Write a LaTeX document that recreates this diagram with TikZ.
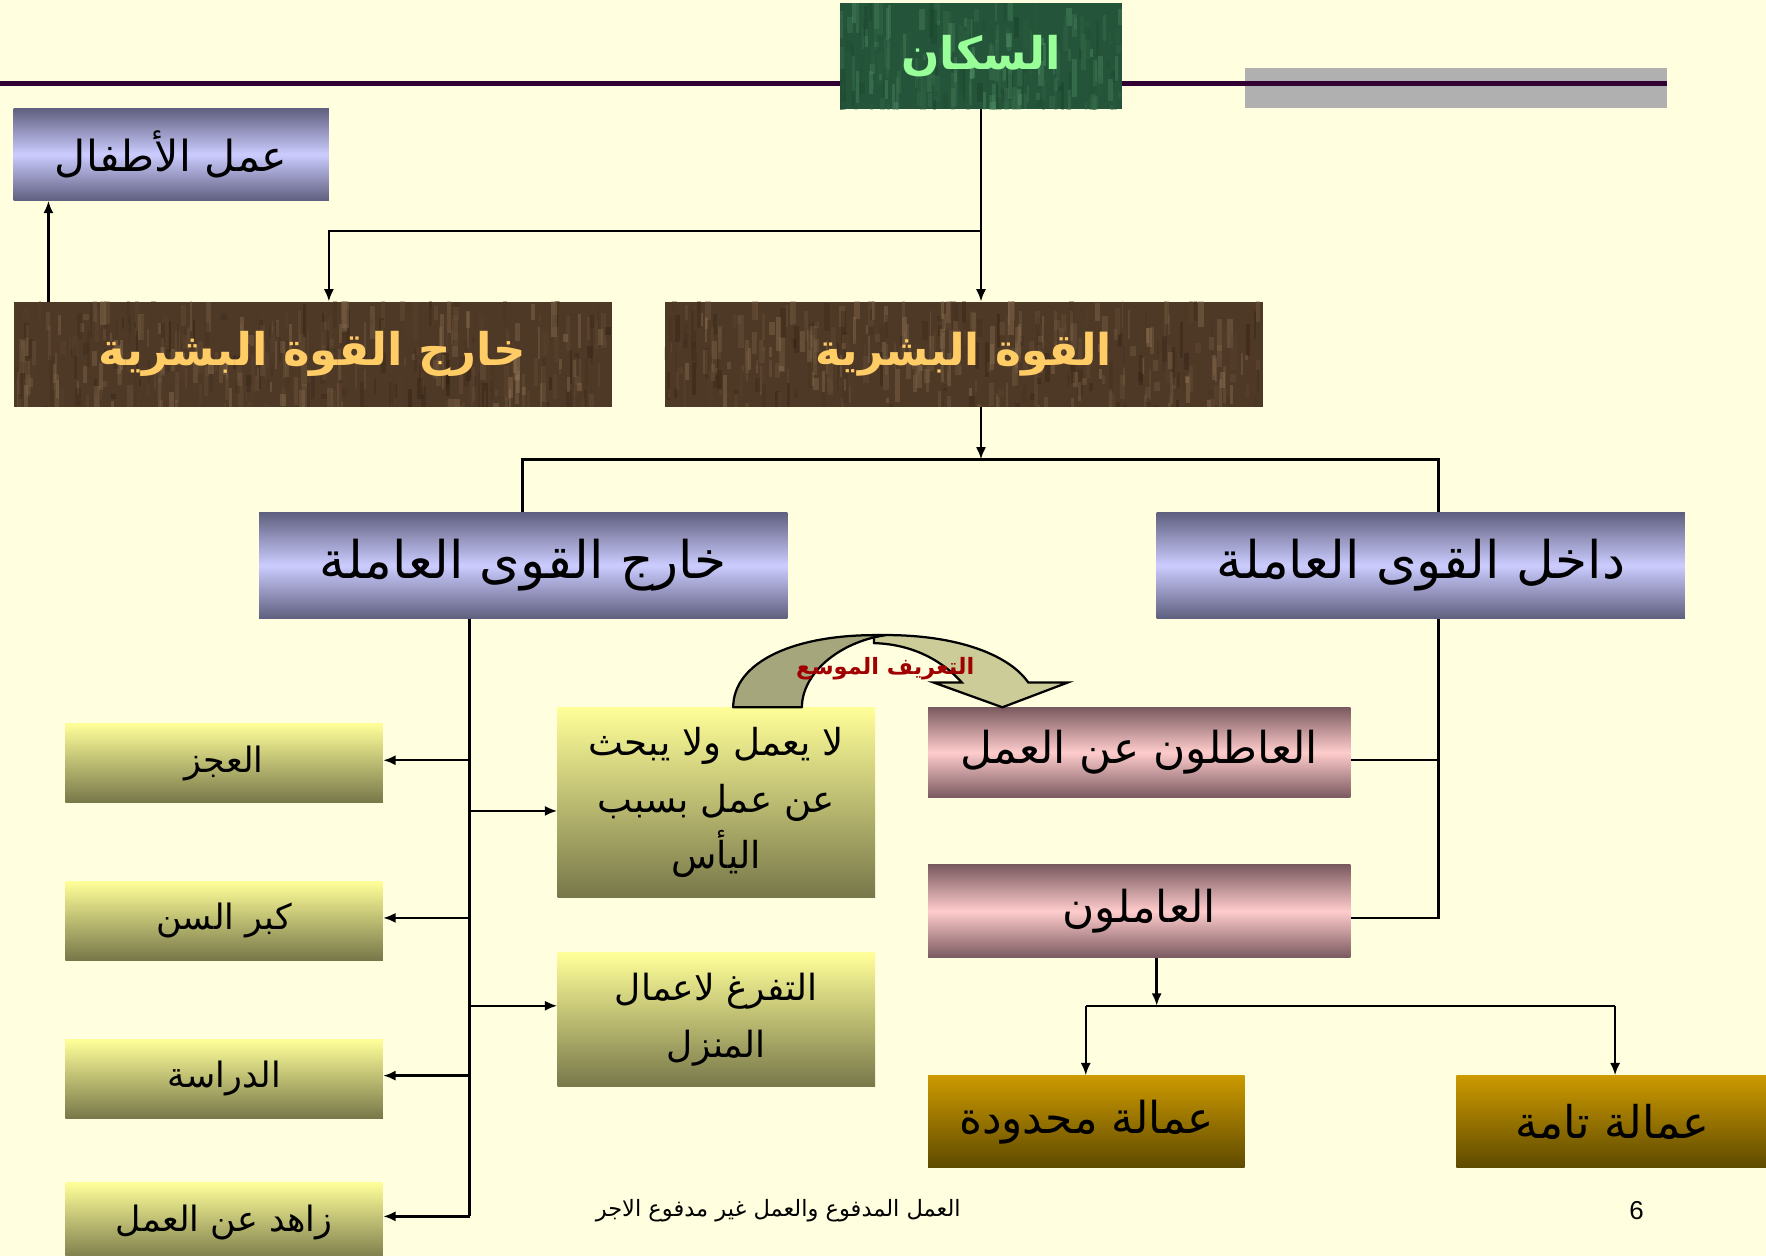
\documentclass[tikz,border=0pt]{standalone}
\usepackage{fontspec}
\setmainfont{Liberation Sans}
\newfontfamily\arb[Script=Arabic]{DejaVu Sans}
\TeXXeTstate=1
\usetikzlibrary{arrows.meta,calc}
\definecolor{bgc}{HTML}{FFFFE0}
\definecolor{purplec}{HTML}{330033}
\definecolor{greyc}{HTML}{B0B0B0}
\definecolor{bluedark}{HTML}{5F5F7F}
\definecolor{bluelight}{HTML}{CCCCFF}
\definecolor{pinkdark}{HTML}{7A5A60}
\definecolor{pinklight}{HTML}{FFCCCC}
\definecolor{yeltop}{HTML}{FFFF99}
\definecolor{yelbot}{HTML}{77774A}
\definecolor{goldtop}{HTML}{CC9900}
\definecolor{goldbot}{HTML}{5E4A00}
\definecolor{brownbase}{HTML}{4E3826}
\definecolor{brownA}{HTML}{2A1A0C}
\definecolor{brownB}{HTML}{9A7E5E}
\definecolor{greenbase}{HTML}{24553A}
\definecolor{greenA}{HTML}{123A22}
\definecolor{greenB}{HTML}{5E9E72}
\definecolor{goldtext}{HTML}{FFCC66}
\definecolor{greentext}{HTML}{99FF99}
\definecolor{arcdark}{HTML}{A6A67C}
\definecolor{arclight}{HTML}{CCCC99}
\definecolor{arctext}{HTML}{A00000}
\tikzset{
  base/.style={rectangle, inner sep=0pt, draw=none, align=center},
  bluebox/.style={base, top color=bluedark, bottom color=bluedark, middle color=bluelight},
  pinkbox/.style={base, top color=pinkdark, bottom color=pinkdark, middle color=pinklight},
  yelbox/.style={base, top color=yeltop, bottom color=yelbot},
  goldbox/.style={base, top color=goldtop, bottom color=goldbot},
  texture/.style n args={4}{base, fill=#4, path picture={
    \path (path picture bounding box.south west) coordinate (tsw)
          (path picture bounding box.north east) coordinate (tne);
    \foreach \k in {1,...,#1}{
      \pgfmathsetmacro{\rx}{rnd}\pgfmathsetmacro{\ry}{rnd}
      \pgfmathsetmacro{\rl}{4+30*rnd}\pgfmathsetmacro{\rc}{100*rnd}
      \pgfmathsetmacro{\rw}{1.5+4*rnd}
      \path let \p1=(tsw), \p2=(tne) in ({\x1+\rx*(\x2-\x1)},{\y1+\ry*(\y2-\y1)-15pt}) coordinate (tp);
      \draw[line width=\rw pt, color=#2!\rc!#3, opacity=.35] (tp) -- ++(0pt,\rl pt);
    }
  }},
  conn/.style={line width=2.2pt, black},
  arr/.style={conn, -{Latex[length=11pt,width=9pt]}},
}
\begin{document}
\begin{tikzpicture}[x=1pt,y=-1pt]
\pgfmathsetseed{7}
\useasboundingbox (0,0) rectangle (1568,1115);
\fill[bgc] (0,0) rectangle (1568,1115);
% header rule
\fill[greyc] (1105,60) rectangle (1480,96);
\draw[line width=4pt, purplec] (0,74) -- (1480,74);

% nodes
\node[texture={220}{greenA}{greenB}{greenbase}, minimum width=250pt, minimum height=94pt, text=greentext,
  font=\arb\bfseries\fontsize{40}{46}\selectfont]
  (sakan) at (871,50) {\beginR السكان\endR};
\node[bluebox, minimum width=280pt, minimum height=82pt, font=\arb\fontsize{38}{44}\selectfont] (atfal) at (152,137)
  {\beginR عمل الأطفال\endR};
\node[texture={420}{brownA}{brownB}{brownbase}, minimum width=531pt, minimum height=93pt, text=goldtext,
  font=\arb\bfseries\fontsize{40}{46}\selectfont]
  (kq) at (277.5,314.5) {\beginR خارج القوة البشرية\endR};
\node[texture={420}{brownA}{brownB}{brownbase}, minimum width=531pt, minimum height=93pt, text=goldtext,
  font=\arb\bfseries\fontsize{39}{46}\selectfont]
  (qb) at (855.5,314.5) {\beginR القوة البشرية\endR};
\node[bluebox, minimum width=469pt, minimum height=94pt, font=\arb\fontsize{46}{52}\selectfont] (kqa) at (464.5,502)
  {\beginR خارج القوى العاملة\endR};
\node[bluebox, minimum width=469pt, minimum height=94pt, font=\arb\fontsize{46}{52}\selectfont] (dqa) at (1261.5,502)
  {\beginR داخل القوى العاملة\endR};

\tikzset{leftyel/.style={yelbox, minimum width=282pt, minimum height=70pt, font=\arb\fontsize{31}{36}\selectfont}}
\node[leftyel] (ajz) at (199,677.5) {\beginR العجز\endR};
\node[leftyel] (kibar) at (199,817.5) {\beginR كبر السن\endR};
\node[leftyel] (dirasa) at (199,958) {\beginR الدراسة\endR};
\node[leftyel] (zahid) at (199,1085) {\beginR زاهد عن العمل\endR};

\node[yelbox, minimum width=282pt, minimum height=169pt, font=\arb\fontsize{33}{50}\selectfont] (yaas) at (636,712.5)
  {\beginR لا يعمل ولا يبحث\endR\\ \beginR عن عمل بسبب\endR\\ \beginR اليأس\endR};
\node[yelbox, minimum width=282pt, minimum height=119pt, font=\arb\fontsize{32}{50}\selectfont] (tafar) at (636,905.5)
  {\beginR التفرغ لاعمال\endR\\ \beginR المنزل\endR};

\node[pinkbox, minimum width=375pt, minimum height=80pt, font=\arb\fontsize{39}{45}\selectfont] (atil) at (1011.5,668)
  {\beginR العاطلون عن العمل\endR};
\node[pinkbox, minimum width=375pt, minimum height=82pt, font=\arb\fontsize{39}{45}\selectfont] (amil) at (1011.5,809)
  {\beginR العاملون\endR};

\node[goldbox, minimum width=281pt, minimum height=82pt, font=\arb\fontsize{39}{45}\selectfont] (mahd) at (964.5,996)
  {\beginR عمالة محدودة\endR};
\node[goldbox, minimum width=277pt, minimum height=82pt, font=\arb\fontsize{40}{46}\selectfont] (tamm) at (1431.5,996)
  {\beginR عمالة تامة\endR};

\node[base, font=\arb\fontsize{20}{24}\selectfont] (foot) at (691,1075) {\beginR العمل المدفوع والعمل غير مدفوع الاجر\endR};
\node[base, font=\fontsize{23}{27}\selectfont] (pnum) at (1453,1075) {6};

% curved arrow
\fill[arclight, draw=black, line width=2pt, line join=miter]
  (776,564) .. controls (845,562) and (895,580) .. (913,606) -- (948,606) -- (890,628)
  -- (829,606) -- (854,606) .. controls (838,588) and (812,572) .. (776,571) -- cycle;
\fill[arcdark, draw=black, line width=2pt, line join=round]
  (651,628) .. controls (651,588) and (705,562) .. (786,564)
  .. controls (745,570) and (712,598) .. (712,628) -- cycle;
\node[base, text=arctext, font=\arb\bfseries\fontsize{20}{24}\selectfont] (arclabel) at (786,594) {\beginR التعريف الموسع\endR};

% connectors
\coordinate (b1) at (871,205);
\coordinate (b2) at (292,205);
\coordinate (k1) at (43,300);
\coordinate (h0) at (871,408);
\coordinate (h1) at (464,408);
\coordinate (h2) at (1277,408);
\coordinate (t1) at (417,700);
\coordinate (t2) at (1277,700);
\coordinate (t3) at (1027,893);
\coordinate (g1) at (964,893);
\coordinate (g2) at (1434,893);

\draw[arr] (sakan.south) -- (sakan.south |- qb.north);
\draw[arr] (b1) -- (b2) -- (b2 |- kq.north);
\draw[arr] (k1 |- kq.north) -- (k1 |- atfal.south);
\draw[arr] (h0 |- qb.south) -- (h0);
\draw[conn] (h1 |- kqa.north) -- (h1) -- (h2) -- (h2 |- dqa.north);

\draw[conn] (t1 |- kqa.south) -- (t1 |- 0,1080);
\draw[arr] (t1 |- 0,675) -- (ajz.east |- 0,675);
\draw[arr] (t1 |- 0,815) -- (kibar.east |- 0,815);
\draw[arr] (t1 |- 0,955) -- (dirasa.east |- 0,955);
\draw[arr] (t1 |- 0,1080) -- (zahid.east |- 0,1080);
\draw[arr] (t1 |- 0,720) -- (yaas.west |- 0,720);
\draw[arr] (t1 |- 0,893) -- (tafar.west |- 0,893);

\draw[conn] (t2 |- dqa.south) -- (t2 |- 0,815) -- (amil.east |- 0,815);
\draw[conn] (t2 |- 0,675) -- (atil.east |- 0,675);

\draw[arr] (t3 |- amil.south) -- (t3);
\draw[conn] (g1) -- (g2);
\draw[arr] (g1) -- (g1 |- mahd.north);
\draw[arr] (g2) -- (g2 |- tamm.north);
\end{tikzpicture}
\end{document}
